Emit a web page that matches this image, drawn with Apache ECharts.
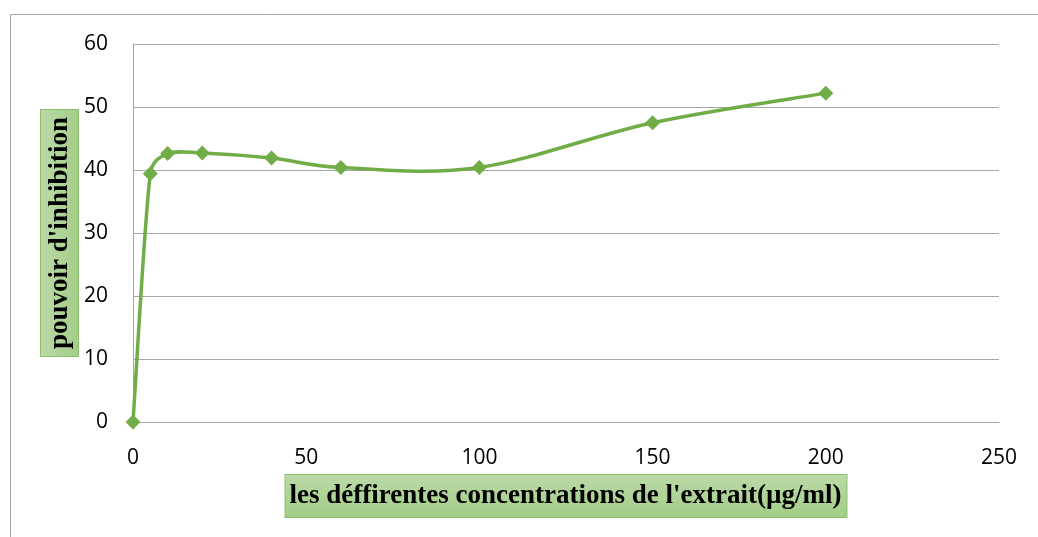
<!DOCTYPE html>
<html>
<head>
<meta charset="utf-8">
<script src="https://cdn.jsdelivr.net/npm/echarts@6/dist/echarts.min.js"></script>
<style>
html,body{margin:0;padding:0;background:#fff;}
#chart{width:1038px;height:537px;}
</style>
</head>
<body>
<div id="chart"></div>
<script>
const concentrations = [0, 5, 10, 20, 40, 60, 100, 150, 200];
const inhibition = [0, 39.4, 42.6, 42.7, 41.9, 40.4, 40.4, 47.5, 52.2];
const xAxisTitle = "les déffirentes concentrations de l'extrait(µg/ml)";
const yAxisTitle = "pouvoir d'inhibition";

const points = concentrations.map((c, i) => [c, inhibition[i]]);

const boxFill = {
  type: 'linear', x: 0, y: 0, x2: 0, y2: 1,
  colorStops: [{offset: 0, color: '#BCDAA8'}, {offset: 1, color: '#A2CD87'}]
};

function limit(v, maxLen) {
  const l = Math.hypot(v[0], v[1]);
  if (l <= maxLen || l === 0) return v;
  return [v[0] * maxLen / l, v[1] * maxLen / l];
}

// smoothed segment (spreadsheet-like smoothing) drawn through the axes' scales
function renderSegment(params, api) {
  const i = params.dataIndex;
  if (i === 0) return null;
  const n = points.length;
  const P = j => api.coord(points[Math.max(0, Math.min(n - 1, j))]);
  const p0 = P(i - 2), p1 = P(i - 1), p2 = P(i), p3 = P(i + 1);
  const t = 1 / 6;
  const seg = Math.hypot(p2[0] - p1[0], p2[1] - p1[1]);
  const d1 = limit([(p2[0] - p0[0]) * t, (p2[1] - p0[1]) * t], seg * 0.45);
  const d2 = limit([(p3[0] - p1[0]) * t, (p3[1] - p1[1]) * t], seg * 0.45);
  return {
    type: 'bezierCurve',
    shape: {x1: p1[0], y1: p1[1], x2: p2[0], y2: p2[1],
      cpx1: p1[0] + d1[0], cpy1: p1[1] + d1[1], cpx2: p2[0] - d2[0], cpy2: p2[1] - d2[1]},
    style: {stroke: '#70AD47', lineWidth: 3.5, fill: null, lineCap: 'round'}
  };
}

const chart = echarts.init(document.getElementById('chart'));
chart.setOption({
  animation: false,
  backgroundColor: '#ffffff',
  graphic: [{
    type: 'rect', shape: {x: 10.5, y: 14.5, width: 1100, height: 600},
    style: {fill: 'none', stroke: '#A6A6A6', lineWidth: 1}, silent: true, z: -1
  }],
  grid: {left: 133, right: 39, top: 44, bottom: 115, containLabel: false},
  xAxis: {
    type: 'value', min: 0, max: 250, interval: 50,
    axisLine: {show: true, lineStyle: {color: '#A6A6A6', width: 1}},
    axisTick: {show: false},
    splitLine: {show: false},
    axisLabel: {color: '#000', fontFamily: 'Open Sans', fontSize: 21, margin: 26},
    name: xAxisTitle,
    nameLocation: 'middle',
    nameGap: 53,
    nameMoveOverlap: false,
    nameTextStyle: {
      fontFamily: 'Liberation Serif', fontWeight: 'bold', fontSize: 27, color: '#000',
      backgroundColor: boxFill, borderColor: '#8CC26C', borderWidth: 1,
      padding: [8, 5, 7, 4], verticalAlign: 'top'
    }
  },
  yAxis: {
    type: 'value', min: 0, max: 60, interval: 10,
    axisLine: {show: true, lineStyle: {color: '#A6A6A6', width: 1}},
    axisTick: {show: false},
    splitLine: {show: true, lineStyle: {color: '#A6A6A6', width: 1}},
    axisLabel: {color: '#000', fontFamily: 'Open Sans', fontSize: 21, margin: 25},
    name: yAxisTitle,
    nameLocation: 'middle',
    nameGap: 55,
    nameRotate: 90,
    nameMoveOverlap: false,
    nameTextStyle: {
      fontFamily: 'Liberation Serif', fontWeight: 'bold', fontSize: 27, color: '#000',
      backgroundColor: boxFill, borderColor: '#8CC26C', borderWidth: 1,
      padding: [6, 7, 4, 7], verticalAlign: 'bottom'
    }
  },
  series: [{
    type: 'custom',
    data: points,
    encode: {x: 0, y: 1},
    renderItem: renderSegment,
    z: 2
  }, {
    type: 'line',
    data: points,
    symbol: 'diamond',
    symbolSize: 15,
    lineStyle: {opacity: 0},
    itemStyle: {color: '#70AD47'},
    z: 3
  }]
});
</script>
</body>
</html>
